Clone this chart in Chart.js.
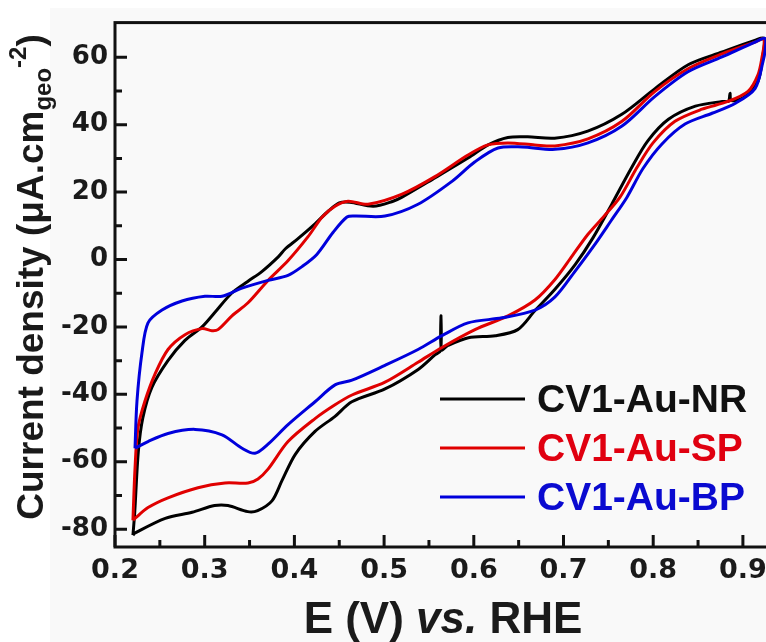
<!DOCTYPE html>
<html>
<head>
<meta charset="utf-8">
<script src="https://cdn.jsdelivr.net/npm/chart.js@4.4.1/dist/chart.umd.min.js"></script>
<style>
  html, body { margin: 0; padding: 0; background: #fff; overflow: hidden; }
  #wrap { width: 800px; height: 642px; }
</style>
</head>
<body>
<div id="wrap"><canvas id="cv" width="800" height="642"></canvas></div>
<script>
"use strict";

// CV loops (E in V vs RHE, j in uA/cm2)
var nrE = [0.220, 0.222, 0.226, 0.231, 0.241, 0.259, 0.278, 0.297, 0.311, 0.330, 0.348, 0.364, 0.382, 0.390,
  0.404, 0.423, 0.438, 0.450, 0.462, 0.488, 0.510, 0.520, 0.557, 0.594, 0.616, 0.638, 0.660, 0.690, 0.727,
  0.765, 0.802, 0.839, 0.877, 0.914, 0.9235,
  0.922, 0.917, 0.906, 0.899, 0.887, 0.8856, 0.884, 0.877, 0.847, 0.817, 0.794, 0.776, 0.754, 0.733, 0.713,
  0.6905, 0.668, 0.649, 0.624, 0.594, 0.5712, 0.5640, 0.5634, 0.5630, 0.557, 0.538, 0.501, 0.464, 0.445,
  0.423, 0.401, 0.386, 0.375, 0.359, 0.348, 0.326, 0.311, 0.286, 0.256, 0.222, 0.220];
var nrJ = [-81.8, -75, -57, -47, -38, -30, -24, -20, -15.8, -10, -6.5, -3.5, 0.8, 3.2,
  6.2, 10.6, 14.4, 16.8, 17, 15.8, 17.3, 18.5, 24.3, 30.2, 34, 36.2, 36.4, 36, 38.1,
  43.1, 50.7, 57.8, 61.6, 65.1, 65.6,
  60, 53, 49.5, 47.8, 47.2, 49.3, 47.0, 46.9, 45.5, 41.6, 35.2, 27.3, 16.5, 6.5, -1.5,
  -8.8, -15.2, -20.8, -22.6, -23.2, -25.5, -26.8, -16.7, -27.0, -28.2, -32.6, -38.4, -42.2, -46.6,
  -51, -57.8, -65.7, -71.6, -74.5, -74.8, -73, -73, -75, -76.8, -81.2, -81.8];

var spE = [0.220, 0.2223, 0.2256, 0.2334, 0.2446, 0.2591, 0.278, 0.297, 0.308, 0.3148, 0.3304, 0.348, 0.3706,
  0.393, 0.415, 0.431, 0.4453, 0.4598, 0.4821, 0.520, 0.5567, 0.5935, 0.6158, 0.638, 0.668, 0.6905, 0.7273,
  0.7652, 0.802, 0.8388, 0.8767, 0.9135, 0.9235,
  0.9213, 0.9168, 0.9057, 0.8834, 0.8544, 0.8243, 0.7998, 0.7819, 0.763, 0.745, 0.7273, 0.7095, 0.6905, 0.6682,
  0.6381, 0.6013, 0.5645, 0.5378, 0.501, 0.4642, 0.4453, 0.423, 0.3929, 0.3706, 0.3594, 0.3483, 0.3226,
  0.2925, 0.2591, 0.2368, 0.2223, 0.220];
var spJ = [-77.4, -62, -50, -42, -34, -26.7, -22.3, -20.5, -21.1, -20.8, -16.7, -12.9, -6.2,
  -0.3, 6.7, 12.6, 15.8, 17.3, 16.4, 19.4, 24.6, 31, 34, 34.6, 34, 33.7, 35.8,
  41, 49.9, 56.6, 61, 64.5, 65.4,
  60, 54.8, 49.9, 46.9, 44.6, 41, 34.6, 27.3, 18.5, 12.8, 7.5, 1.0, -5.9, -12,
  -16.7, -20.8, -26.1, -30.5, -36.4, -40.2, -43.1, -47.2, -54, -62.2, -65.1, -66.3, -66.3,
  -67.7, -70.7, -73.6, -76.8, -77.4];

var bpE = [0.2223, 0.2245, 0.2301, 0.2368, 0.2524, 0.2747, 0.3003, 0.3193, 0.3416, 0.3706, 0.3929, 0.4085,
  0.425, 0.443, 0.4586, 0.4676, 0.501, 0.5378, 0.5757, 0.6013, 0.627, 0.6537, 0.6905, 0.7273, 0.7652, 0.802,
  0.8388, 0.8767, 0.9135, 0.9247,
  0.9247, 0.9224, 0.9135, 0.8912, 0.8656, 0.8355, 0.8098, 0.7886, 0.7708, 0.753, 0.735, 0.7128, 0.6905, 0.6682,
  0.6314, 0.5935, 0.5645, 0.5378, 0.501, 0.4642, 0.4453, 0.423, 0.3929, 0.3706, 0.3561, 0.3416, 0.3193,
  0.2892, 0.2591, 0.2368, 0.2223];
var bpJ = [-56, -42, -27.6, -18.8, -15, -12.3, -10.9, -10.9, -8.5, -6.2, -4.7, -2.1,
  1.5, 8, 12.6, 12.9, 12.9, 16.4, 23.2, 29, 33.1, 33.4, 32.7, 34.6, 39.6, 48.4,
  55.7, 60.1, 64.5, 65.6,
  62, 58.7, 50.7, 46.3, 43.4, 40.2, 34.3, 27, 18.5, 11.5, 4.5, -3.5, -11.1, -15,
  -17.3, -18.8, -22.6, -26.7, -31.4, -35.8, -37.2, -42.2, -49, -54.8, -57.5, -56, -52,
  -50.4, -51.6, -54, -56];

var seriesNames = ["CV1-Au-NR", "CV1-Au-SP", "CV1-Au-BP"];
var xMajor = [0.2, 0.3, 0.4, 0.5, 0.6, 0.7, 0.8, 0.9];
var xMinor = [0.25, 0.35, 0.45, 0.55, 0.65, 0.75, 0.85, 0.95];
var yMajor = [-80, -60, -40, -20, 0, 20, 40, 60];
var yMinor = [-70, -50, -30, -10, 10, 30, 50];

var FONT = '"Liberation Sans", Arial, sans-serif';
var TICK_FONT = '"DejaVu Sans", sans-serif';
var lineColors = ["#000000", "#e00000", "#0000dc"];
var textColors = ["#111111", "#e00010", "#0a0ad0"];

function pts(xs, ys) {
  return xs.map(function (x, i) { return { x: x, y: ys[i] }; });
}

function richText(ctx, parts, cx, y) {
  var w = 0;
  parts.forEach(function (p) {
    ctx.font = (p.italic ? "italic " : "") + "bold " + p.size + "px " + FONT;
    p.w = ctx.measureText(p.t).width;
    w += p.w;
  });
  var x = cx - w / 2;
  parts.forEach(function (p) {
    ctx.font = (p.italic ? "italic " : "") + "bold " + p.size + "px " + FONT;
    ctx.fillText(p.t, x, y + (p.dy || 0));
    x += p.w;
  });
}

var decorPlugin = {
  id: "decor",
  beforeDraw: function (chart) {
    var ctx = chart.ctx;
    ctx.save();
    ctx.fillStyle = "#ffffff";
    ctx.fillRect(0, 0, chart.width, chart.height);
    ctx.fillStyle = "#f9f9f9";
    ctx.fillRect(50, 8, chart.width - 50, chart.height - 8);
    ctx.restore();
  },
  afterDraw: function (chart) {
    var ctx = chart.ctx, a = chart.chartArea;
    var xs = chart.scales.x, ys = chart.scales.y;
    ctx.save();
    ctx.strokeStyle = "#111";
    ctx.lineWidth = 3;
    ctx.strokeRect(a.left, a.top, a.right - a.left, a.bottom - a.top);

    // inward tick marks
    ctx.beginPath();
    xMajor.forEach(function (v) { var p = xs.getPixelForValue(v); ctx.moveTo(p, a.bottom); ctx.lineTo(p, a.bottom - 12); });
    xMinor.forEach(function (v) { var p = xs.getPixelForValue(v); ctx.moveTo(p, a.bottom); ctx.lineTo(p, a.bottom - 7); });
    yMajor.forEach(function (v) { var p = ys.getPixelForValue(v); ctx.moveTo(a.left, p); ctx.lineTo(a.left + 12, p); });
    yMinor.forEach(function (v) { var p = ys.getPixelForValue(v); ctx.moveTo(a.left, p); ctx.lineTo(a.left + 7, p); });
    ctx.stroke();

    // legend
    var rowsLine = [399, 448, 497];
    var rowsText = [412, 461, 510];
    for (var i = 0; i < 3; i++) {
      ctx.strokeStyle = lineColors[i];
      ctx.beginPath();
      ctx.moveTo(440, rowsLine[i]);
      ctx.lineTo(525, rowsLine[i]);
      ctx.stroke();
      ctx.fillStyle = textColors[i];
      ctx.font = "bold 39px " + FONT;
      ctx.textAlign = "left";
      ctx.textBaseline = "alphabetic";
      ctx.fillText(seriesNames[i], 537, rowsText[i]);
    }

    // axis titles
    ctx.fillStyle = "#1a1a1a";
    ctx.textBaseline = "alphabetic";
    ctx.textAlign = "left";
    richText(ctx, [
      { t: "E (V) ", size: 44 },
      { t: "vs.", size: 44, italic: true },
      { t: " RHE", size: 44 }
    ], 443, 633);

    ctx.translate(43, 277);
    ctx.rotate(-Math.PI / 2);
    richText(ctx, [
      { t: "Current density (\u03bcA.cm", size: 37 },
      { t: "geo", size: 24, dy: 8 },
      { t: "-2", size: 24, dy: -17 },
      { t: ")", size: 37 }
    ], 0, 0);
    ctx.restore();
  }
};

var ctx = document.getElementById("cv").getContext("2d");
var chart = new Chart(ctx, {
  type: "scatter",
  data: {
    datasets: [
      { label: seriesNames[0], data: pts(nrE, nrJ), borderColor: lineColors[0], order: 3 },
      { label: seriesNames[1], data: pts(spE, spJ), borderColor: lineColors[1], order: 2 },
      { label: seriesNames[2], data: pts(bpE, bpJ), borderColor: lineColors[2], order: 1 }
    ].map(function (d) {
      d.showLine = true;
      d.pointRadius = 0;
      d.borderWidth = 3;
      d.tension = 0.3;
      d.fill = false;
      return d;
    })
  },
  options: {
    responsive: false,
    animation: false,
    devicePixelRatio: 1,
    layout: { padding: { top: 16, left: 0, right: 0, bottom: 0 } },
    plugins: { legend: { display: false }, tooltip: { enabled: false } },
    scales: {
      x: {
        type: "linear",
        min: 0.2,
        max: 0.2 + 685 / 897,
        grid: { display: false, drawTicks: false },
        border: { display: false },
        ticks: {
          font: { family: TICK_FONT, size: 27, weight: "bold" },
          color: "#1a1a1a",
          padding: 8,
          maxRotation: 0,
          autoSkip: false,
          callback: function (v) { return v.toFixed(1); }
        },
        afterBuildTicks: function (s) { s.ticks = xMajor.map(function (v) { return { value: v }; }); },
        afterFit: function (s) { s.height = 95; }
      },
      y: {
        type: "linear",
        min: -85.3,
        max: 70.3,
        grid: { display: false, drawTicks: false },
        border: { display: false },
        ticks: {
          font: { family: TICK_FONT, size: 26, weight: "bold" },
          color: "#1a1a1a",
          padding: 7,
          autoSkip: false,
          callback: function (v) { return String(v); }
        },
        afterBuildTicks: function (s) { s.ticks = yMajor.map(function (v) { return { value: v }; }); },
        afterFit: function (s) { s.width = 115; }
      }
    }
  },
  plugins: [decorPlugin]
});
</script>
</body>
</html>
